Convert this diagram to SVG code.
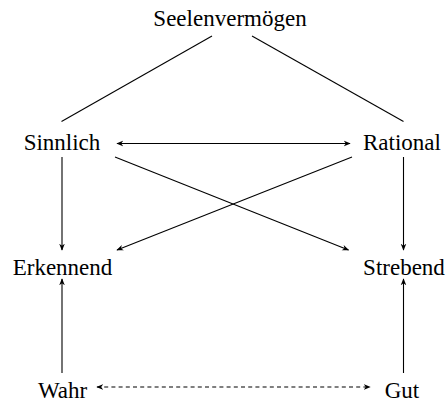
<svg xmlns="http://www.w3.org/2000/svg" width="447" height="403" viewBox="0 0 447 403">
<style>
text{font-family:"Liberation Serif","Times New Roman",serif;font-size:23px;fill:#000;text-anchor:middle}
.c{stroke:#000;stroke-width:1.1;fill:none}
.d{stroke-dasharray:4,3.2}
</style>
<defs>
<marker id="ah" viewBox="0 0 10 10" refX="9" refY="5" markerWidth="7" markerHeight="7" orient="auto-start-reverse" markerUnits="userSpaceOnUse">
<path d="M0,1 L10,5 L0,9 L3,5 Z" fill="#000"/>
</marker>
</defs>
<rect width="447" height="403" fill="#fff"/>
<g id="connectors">
<line class="c" x1="212" y1="36" x2="61.5" y2="121.5"/>
<line class="c" x1="252" y1="36" x2="403.5" y2="121.5"/>
<line class="c" x1="117" y1="143.5" x2="350" y2="143.5" marker-start="url(#ah)" marker-end="url(#ah)"/>
<line class="c" x1="62" y1="157" x2="62" y2="250" marker-end="url(#ah)"/>
<line class="c" x1="403.5" y1="157" x2="403.5" y2="250" marker-end="url(#ah)"/>
<line class="c" x1="115" y1="157" x2="348.5" y2="250" marker-end="url(#ah)"/>
<line class="c" x1="352" y1="157" x2="117" y2="250" marker-end="url(#ah)"/>
<line class="c" x1="62" y1="373" x2="62" y2="279" marker-end="url(#ah)"/>
<line class="c" x1="403.5" y1="373" x2="403.5" y2="279" marker-end="url(#ah)"/>
<line class="c d" x1="97" y1="387" x2="370" y2="387" marker-start="url(#ah)" marker-end="url(#ah)"/>
</g>
<g id="seelenvermoegen"><text x="230" y="26">Seelenvermögen</text></g>
<g id="sinnlich"><text x="62" y="150">Sinnlich</text></g>
<g id="rational"><text x="402" y="150">Rational</text></g>
<g id="erkennend"><text x="62.5" y="275">Erkennend</text></g>
<g id="strebend"><text x="404" y="275">Strebend</text></g>
<g id="wahr"><text x="62.5" y="398">Wahr</text></g>
<g id="gut"><text x="402" y="398">Gut</text></g>
</svg>
